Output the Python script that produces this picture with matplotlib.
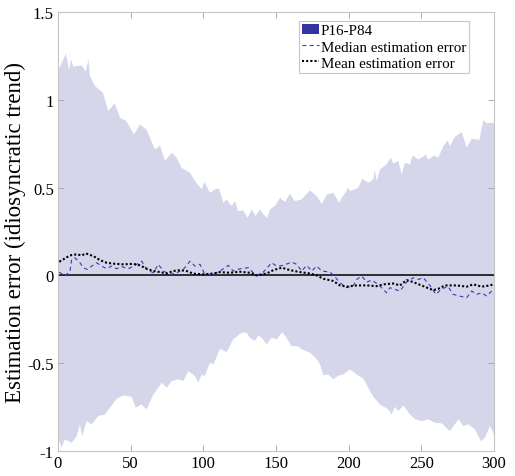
import matplotlib
matplotlib.use("Agg")
import matplotlib.pyplot as plt
from matplotlib.patches import Patch
from matplotlib.lines import Line2D

plt.rcParams['font.family'] = ['Liberation Serif', 'DejaVu Serif']
plt.rcParams['axes.unicode_minus'] = False

# P84 edge of the band
upper_x = [0, 5.5, 7.6, 9, 10.5, 16.3, 19, 21, 22, 25.5, 31, 34.6, 39, 42.7, 47, 52.3,
           56.4, 61, 66.7, 70.2, 73.6, 78.2, 81.7, 85, 90.8, 94.3, 98.9, 100.7, 104.6,
           108, 110.8, 113.8, 116, 119.5, 121.8, 124, 127.5, 130.5, 133.3, 136, 139,
           141.3, 144, 145.9, 149.3, 152.8, 156.2, 159.6, 163, 167.7, 173.4, 178, 181.5,
           185, 189.5, 193.4, 195.7, 199.8, 201, 206.6, 209.4, 213.5, 217, 218, 219.3,
           221.6, 226, 228.9, 230.7, 234.2, 236.5, 238.8, 242.2, 244, 248, 251.3, 253,
           254.8, 258.9, 261.7, 265.1, 268.1, 269.7, 273.2, 277.8, 281.2, 284.7, 289.9,
           292.7, 295, 298.4, 300]
upper_y = [1.163, 1.264, 1.17, 1.23, 1.19, 1.196, 1.16, 1.23, 1.135, 1.078, 1.04, 0.936,
           0.98, 0.898, 0.879, 0.803, 0.86, 0.83, 0.717, 0.74, 0.651, 0.699, 0.67, 0.613,
           0.585, 0.537, 0.49, 0.533, 0.471, 0.49, 0.495, 0.414, 0.433, 0.395, 0.423,
           0.366, 0.37, 0.328, 0.376, 0.338, 0.376, 0.347, 0.328, 0.376, 0.395, 0.442,
           0.418, 0.465, 0.423, 0.433, 0.484, 0.452, 0.408, 0.461, 0.471, 0.414, 0.446,
           0.499, 0.48, 0.499, 0.55, 0.528, 0.547, 0.6, 0.537, 0.604, 0.632, 0.67, 0.638,
           0.651, 0.575, 0.642, 0.632, 0.683, 0.66, 0.676, 0.689, 0.66, 0.683, 0.67,
           0.736, 0.769, 0.736, 0.79, 0.816, 0.727, 0.778, 0.771, 0.884, 0.866, 0.87, 0.866]

# P16 edge of the band
lower_x = [0, 2.5, 4.8, 9.4, 12.9, 15.1, 16.7, 19.7, 23.2, 27.7, 32.3, 35.8, 40.4, 44.9,
           50.7, 53.5, 57.6, 61, 65.6, 71.4, 74.8, 78.2, 82.8, 86.2, 89.7, 94.3, 96.5,
           98.9, 101, 104.6, 107, 111.5, 116, 120.6, 126.4, 129.8, 132, 135.5, 137.8,
           140.2, 143.6, 147, 150.5, 154.3, 156.7, 160.8, 165.4, 167.7, 173.4, 177.3,
           180.3, 182.6, 186, 189.5, 193.4, 196.3, 201, 205.5, 210.1, 213.5, 217, 221.6,
           227.3, 229.6, 231.9, 234.2, 237.6, 242.2, 245.7, 250.3, 254.8, 259.4, 264,
           269.7, 275.5, 278.9, 282.3, 286.9, 291, 293.8, 297.2, 300]
lower_y = [-0.925, -0.981, -0.934, -0.953, -0.915, -0.848, -0.915, -0.83, -0.848, -0.801,
           -0.792, -0.753, -0.702, -0.683, -0.691, -0.753, -0.735, -0.763, -0.678, -0.611,
           -0.64, -0.602, -0.592, -0.602, -0.545, -0.573, -0.611, -0.564, -0.573, -0.497,
           -0.507, -0.417, -0.437, -0.364, -0.326, -0.326, -0.355, -0.374, -0.342, -0.355,
           -0.393, -0.355, -0.364, -0.323, -0.349, -0.403, -0.403, -0.421, -0.44, -0.469,
           -0.507, -0.569, -0.564, -0.592, -0.569, -0.564, -0.535, -0.564, -0.588, -0.64,
           -0.691, -0.735, -0.763, -0.792, -0.748, -0.773, -0.74, -0.792, -0.82, -0.83,
           -0.82, -0.839, -0.843, -0.887, -0.82, -0.858, -0.848, -0.877, -0.944, -0.924,
           -0.858, -0.905]

# median estimation error
med_x = [0.9, 4.8, 8.3, 9.4, 11.7, 15.1, 17.4, 20.2, 23.2, 26.6, 30.1, 33.5, 36.9, 40.4,
         43.8, 48.4, 54.2, 57.6, 61, 65.6, 69, 72.5, 77.1, 81.7, 86.2, 90.8, 94.3, 97.7,
         101.1, 106.9, 111.5, 117.2, 120.6, 125.2, 131, 134.4, 136.7, 141.3, 147, 150.5,
         155, 160.8, 164.3, 167.7, 171.1, 174.6, 178, 181.5, 187.2, 190.6, 194, 198.7,
         203.3, 205.5, 209, 212.4, 215.8, 220.4, 226.1, 228.4, 231.9, 235.3, 239.9, 244.5,
         247.9, 251.3, 255.9, 260, 264, 268.5, 271.9, 276.5, 281.2, 284.7, 288.1, 291.5,
         295, 298.4]
med_y = [0.019, -0.004, 0.025, 0.091, 0.1, 0.072, 0.044, 0.034, 0.053, 0.072, 0.053, 0.038,
         0.053, 0.038, 0.05, 0.038, 0.063, 0.081, 0.034, 0.015, 0.063, 0.025, 0.006, 0.015,
         0.034, 0.081, 0.053, 0.063, 0.006, 0.006, 0.025, 0.057, 0.025, 0.038, 0.044, 0.015,
         0.0, 0.019, 0.072, 0.053, 0.057, 0.076, 0.063, 0.025, 0.057, 0.025, 0.053, 0.025,
         0.019, -0.008, -0.042, -0.07, -0.057, -0.023, -0.004, -0.038, -0.027, -0.051,
         -0.099, -0.07, -0.08, -0.089, -0.038, -0.013, -0.023, -0.013, -0.057, -0.108,
         -0.076, -0.064, -0.108, -0.118, -0.127, -0.089, -0.108, -0.099, -0.118, -0.089]

# mean estimation error
mean_x = [0.9, 8.3, 12.9, 16.3, 19.3, 24.3, 28.9, 33.5, 39.2, 45, 51.8, 56.4, 61, 65.6,
          70.2, 74.8, 79.3, 83.9, 88.5, 93.1, 100, 106.9, 111.5, 118.3, 125.2, 132.1,
          136.7, 143.6, 148.2, 154, 159.6, 166.5, 173.4, 178, 182.6, 189.5, 194, 198.7,
          205.5, 212.4, 219.3, 223.9, 230.7, 235.3, 239.9, 244.5, 251.3, 258.2, 261.7,
          266.3, 274.3, 281.2, 285.8, 291.5, 297.2, 299.5]
mean_y = [0.078, 0.114, 0.12, 0.114, 0.125, 0.11, 0.087, 0.072, 0.066, 0.063, 0.066, 0.057,
          0.038, 0.025, 0.019, 0.011, 0.025, 0.03, 0.025, 0.01, 0.006, 0.011, 0.019, 0.015,
          0.021, 0.015, 0.0, 0.011, 0.03, 0.044, 0.03, 0.019, 0.011, 0.0, -0.019, -0.032,
          -0.057, -0.064, -0.057, -0.057, -0.061, -0.051, -0.046, -0.057, -0.027, -0.038,
          -0.061, -0.084, -0.076, -0.057, -0.057, -0.064, -0.051, -0.064, -0.057, -0.051]

band_color = '#d5d6ea'
legend_patch = '#3434a0'
median_color = '#3a3ab0'

fig = plt.figure(figsize=(5.15, 4.77), dpi=100)
ax = fig.add_axes([0.1126, 0.0524, 0.8466, 0.9203])

ax.fill(upper_x + lower_x[::-1], upper_y + lower_y[::-1],
        color=band_color, lw=0, zorder=1)
ax.axhline(0, color='black', lw=1.1, zorder=2)
ax.plot(med_x, med_y, color=median_color, lw=0.8, dashes=(3.5, 3), zorder=3)
ax.plot(mean_x, mean_y, color='black', lw=1.5, dashes=(1, 1), zorder=4)

ax.set_xlim(0, 300)
ax.set_ylim(-1, 1.5)
ax.set_xticks([0, 50, 100, 150, 200, 250, 300])
ax.set_yticks([-1, -0.5, 0, 0.5, 1, 1.5])
ax.set_yticklabels(['-1', '-0.5', '0', '0.5', '1', '1.5'])
ax.tick_params(direction='in', length=4, width=0.6, color='#a0a0a0',
               top=True, right=True, labelsize=12, pad=3)
for sp in ax.spines.values():
    sp.set_color('#c4c4c4')
    sp.set_linewidth(0.8)
ax.set_ylabel('Estimation error (idiosyncratic trend)', fontsize=16.5, labelpad=1)

handles = [Patch(facecolor=legend_patch, edgecolor='none'),
           Line2D([], [], color=median_color, lw=0.8, dashes=(3.5, 3)),
           Line2D([], [], color='black', lw=1.5, dashes=(1, 1))]
labels = ['P16-P84', 'Median estimation error', 'Mean estimation error']
leg = ax.legend(handles, labels, loc='upper right', bbox_to_anchor=(0.943, 0.98),
                fontsize=10.8, frameon=True, fancybox=False, framealpha=1,
                handlelength=1.1, handletextpad=0.12, borderpad=0.2,
                labelspacing=0.18, borderaxespad=0)
leg.get_frame().set_edgecolor('#c8c8c8')
leg.get_frame().set_linewidth(0.8)

fig.savefig('out.png', dpi=100)
